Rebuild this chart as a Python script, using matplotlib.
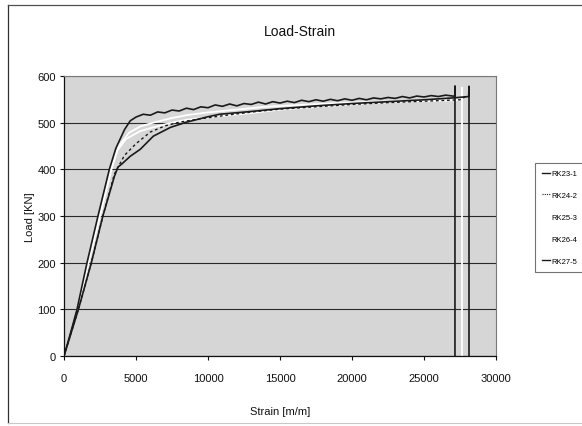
import matplotlib
matplotlib.use("Agg")
import matplotlib.pyplot as plt
from matplotlib.lines import Line2D

plt.rcParams['font.family'] = ['Liberation Sans Narrow', 'Liberation Sans', 'DejaVu Sans']

# ---- data ----
series_names = ["RK23-1", "RK24-2", "RK25-3", "RK26-4", "RK27-5"]

rk23_strain = [0, 500, 900, 1600, 2360, 3150, 3600, 3900, 4200, 4600,
               5000, 5500, 6000, 6500, 7000, 7500, 8000, 8500, 9000, 9500,
               10000, 10500, 11000, 11500, 12000, 12500, 13000, 13500, 14000, 14500,
               15000, 15500, 16000, 16500, 17000, 17500, 18000, 18500, 19000, 19500,
               20000, 20500, 21000, 21500, 22000, 22500, 23000, 23500, 24000, 24500,
               25000, 25500, 26000, 26500, 27000, 27150, 27150, 27150]
rk23_load = [0, 55, 100, 200, 300, 400, 445, 465, 485, 504,
             512, 518, 516, 523, 521, 527, 525, 531, 528, 534,
             532, 538, 535, 540, 536, 541, 539, 544, 540, 545,
             542, 546, 543, 548, 545, 549, 546, 550, 547, 551,
             548, 552, 549, 553, 551, 554, 552, 556, 553, 557,
             555, 558, 556, 559, 557, 557, 578, 0]

rk24_strain = [0, 1000, 1900, 2700, 3500, 4200, 5000, 6000, 7000, 8000,
               9400, 11300, 13100, 15000, 17500, 20000, 22500, 25000, 27500, 27900]
rk24_load = [0, 100, 200, 300, 390, 430, 455, 480, 493, 501,
             508, 516, 523, 529, 534, 539, 543, 546, 549, 556]

rk25_strain = [0, 900, 1650, 2450, 3250, 3700, 4300, 5300, 6200, 7500,
               8500, 10800, 13100, 15000, 17500, 20000, 22000, 24500, 27000, 27600,
               27640, 27640]
rk25_load = [0, 100, 200, 300, 400, 440, 465, 482, 490, 500,
             506, 514, 521, 528, 534, 539, 543, 546, 548, 549,
             575, 0]

rk26_strain = [0, 920, 1700, 2500, 3300, 3800, 4500, 5300, 6200, 7500,
               8500, 10000, 12000, 14000, 17000, 20000, 23000, 26500]
rk26_load = [0, 100, 200, 300, 400, 450, 478, 492, 500, 510,
             516, 522, 528, 534, 539, 543, 546, 548]

rk27_strain = [0, 1000, 1900, 2700, 3500, 3750, 4000, 4600, 5300, 6200,
               7400, 8500, 9900, 10800, 13000, 15000, 17500, 20000, 22500, 25000,
               27000, 28100, 28125, 28125]
rk27_load = [0, 100, 200, 300, 385, 405, 411, 428, 443, 471,
             490, 501, 512, 518, 524, 530, 536, 541, 545, 549,
             553, 556, 578, 0]

x_ticks = [0, 5000, 10000, 15000, 20000, 25000, 30000]
y_ticks = [0, 100, 200, 300, 400, 500, 600]

# ---- figure ----
W, H = 582, 427
fig = plt.figure(figsize=(W / 100, H / 100), dpi=100)
fig.patch.set_facecolor("white")

# outer chart frame
fig.add_artist(Line2D([8 / W, 8 / W], [1 - 424 / H, 1 - 6 / H], color="#303030", lw=0.9,
                      transform=fig.transFigure))
fig.add_artist(Line2D([8 / W, 1.0], [1 - 6 / H, 1 - 6 / H], color="#505050", lw=0.9,
                      transform=fig.transFigure))
fig.add_artist(Line2D([8 / W, 1.0], [1 - 424 / H, 1 - 424 / H], color="#c8c8c8", lw=0.8,
                      transform=fig.transFigure))

ax = fig.add_axes([64 / W, 1 - 357 / H, (496 - 64) / W, (357 - 77) / H])
ax.set_facecolor("#d6d6d6")

ax.set_xlim(0, 30000)
ax.set_ylim(0, 600)
ax.set_xticks(x_ticks)
ax.set_yticks(y_ticks)
ax.tick_params(axis="both", direction="out", length=3, width=0.8, labelsize=8,
               colors="#111111", pad=3)
ax.tick_params(axis="x", pad=9)

for s in ["left", "bottom"]:
    ax.spines[s].set_color("#111111")
    ax.spines[s].set_linewidth(0.9)
for s in ["top", "right"]:
    ax.spines[s].set_color("#7a7a7a")
    ax.spines[s].set_linewidth(0.8)

ax.yaxis.grid(True, color="#2a2a2a", linewidth=0.8)
ax.set_axisbelow(True)

ax.plot(rk25_strain, rk25_load, color="white", lw=1.3, label=series_names[2])
ax.plot(rk26_strain, rk26_load, color="white", lw=1.3, label=series_names[3])
ax.plot(rk24_strain, rk24_load, color="#1a1a1a", lw=1.0, ls=(0, (2, 2)), label=series_names[1])
ax.plot(rk27_strain, rk27_load, color="#1a1a1a", lw=1.2, label=series_names[4])
ax.plot(rk23_strain, rk23_load, color="#1a1a1a", lw=1.2, label=series_names[0])

fig.text(300 / W, 1 - 32 / H, "Load-Strain", ha="center", va="center", fontsize=10,
         color="#111111")
fig.text(280 / W, 1 - 412 / H, "Strain [m/m]", ha="center", va="center", fontsize=8,
         color="#111111")
fig.text(30 / W, 1 - 217 / H, "Load [KN]", ha="center", va="center", fontsize=8,
         rotation=90, color="#111111")

# legend, in series order; its box runs on past the right edge of the chart area
handles = [
    Line2D([], [], color="#1a1a1a", lw=1.0),
    Line2D([], [], color="#1a1a1a", lw=0.8, ls=(0, (1, 1))),
    Line2D([], [], color="white", lw=1.0),
    Line2D([], [], color="white", lw=1.0),
    Line2D([], [], color="#1a1a1a", lw=1.0),
]
leg = fig.legend(handles, series_names, loc="upper left",
                 bbox_to_anchor=(535 / W, 1 - 164 / H), bbox_transform=fig.transFigure,
                 fontsize=5.5, frameon=True, fancybox=False, borderaxespad=0,
                 handlelength=1.0, handletextpad=0.2, labelspacing=1.9,
                 borderpad=0.9)
leg.get_frame().set_edgecolor("#505050")
leg.get_frame().set_linewidth(0.8)

fig.savefig("out.png", dpi=100)
